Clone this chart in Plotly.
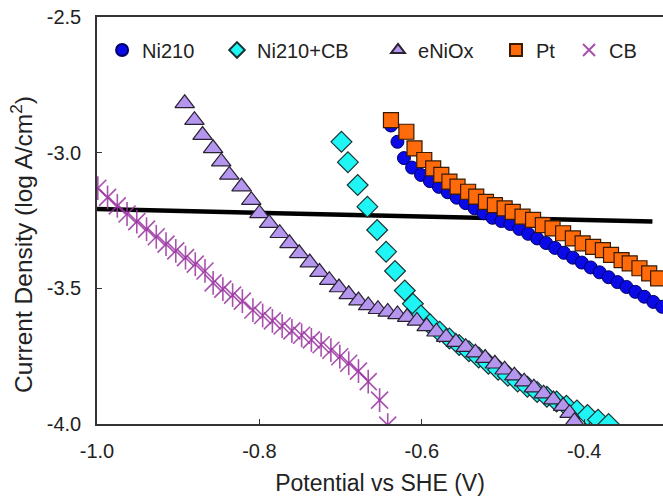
import plotly.graph_objects as go

# ---------------- data ----------------
ni210_x = [-0.638, -0.630, -0.622, -0.612, -0.601, -0.590, -0.579, -0.568, -0.557, -0.546,
           -0.535, -0.524, -0.513, -0.502, -0.491, -0.480, -0.469, -0.458, -0.447, -0.436,
           -0.425, -0.414, -0.403, -0.392, -0.381, -0.370, -0.359, -0.348, -0.337, -0.326,
           -0.315, -0.304]
ni210_y = [-2.900, -2.960, -3.020, -3.055, -3.082, -3.105, -3.126, -3.146, -3.166, -3.186,
           -3.205, -3.223, -3.240, -3.252, -3.263, -3.281, -3.299, -3.316, -3.333, -3.351,
           -3.369, -3.387, -3.405, -3.423, -3.441, -3.459, -3.477, -3.495, -3.513, -3.531,
           -3.550, -3.568]

ni210cb_x = [-0.699, -0.691, -0.679, -0.667, -0.655, -0.644, -0.633, -0.621, -0.611, -0.601,
             -0.590, -0.578, -0.566, -0.554, -0.542, -0.530, -0.518, -0.506, -0.494, -0.482,
             -0.470, -0.458, -0.446, -0.434, -0.422, -0.409, -0.396, -0.383, -0.370]
ni210cb_y = [-2.960, -3.035, -3.119, -3.199, -3.285, -3.365, -3.436, -3.508, -3.557, -3.600,
             -3.632, -3.660, -3.685, -3.709, -3.732, -3.755, -3.778, -3.800, -3.822, -3.843,
             -3.863, -3.882, -3.900, -3.917, -3.933, -3.950, -3.967, -3.984, -4.000]

enioxx = [-0.892, -0.880, -0.870, -0.857, -0.847, -0.837, -0.822, -0.810, -0.800, -0.788,
          -0.775, -0.763, -0.751, -0.738, -0.726, -0.714, -0.702, -0.690, -0.678, -0.666,
          -0.654, -0.642, -0.630, -0.618, -0.606, -0.594, -0.582, -0.570, -0.558, -0.546,
          -0.534, -0.522, -0.510, -0.498, -0.486, -0.474, -0.462, -0.450, -0.438, -0.426,
          -0.418, -0.412]
enioxy = [-2.818, -2.880, -2.935, -2.984, -3.033, -3.082, -3.125, -3.175, -3.224, -3.260,
          -3.297, -3.334, -3.371, -3.405, -3.440, -3.470, -3.497, -3.522, -3.545, -3.563,
          -3.577, -3.587, -3.596, -3.606, -3.620, -3.640, -3.660, -3.680, -3.698, -3.717,
          -3.737, -3.757, -3.778, -3.800, -3.822, -3.844, -3.866, -3.888, -3.910, -3.934,
          -3.960, -3.990]

pt_x = [-0.638, -0.619, -0.609, -0.597, -0.586, -0.576, -0.566, -0.556, -0.543, -0.533,
        -0.521, -0.510, -0.498, -0.488, -0.476, -0.463, -0.451, -0.439, -0.426, -0.414,
        -0.402, -0.389, -0.377, -0.367, -0.354, -0.344, -0.332, -0.320, -0.309]
pt_y = [-2.880, -2.923, -2.984, -3.027, -3.058, -3.082, -3.107, -3.125, -3.144, -3.162,
        -3.181, -3.193, -3.205, -3.218, -3.236, -3.248, -3.267, -3.279, -3.297, -3.316,
        -3.334, -3.347, -3.359, -3.377, -3.396, -3.408, -3.426, -3.445, -3.463]

cb_x = [-0.999, -0.987, -0.975, -0.963, -0.951, -0.939, -0.927, -0.915, -0.903, -0.891,
        -0.879, -0.867, -0.857, -0.845, -0.833, -0.821, -0.808, -0.796, -0.784, -0.772,
        -0.760, -0.748, -0.736, -0.724, -0.712, -0.701, -0.690, -0.678, -0.666, -0.652,
        -0.642]
cb_y = [-3.131, -3.165, -3.196, -3.226, -3.254, -3.282, -3.310, -3.337, -3.362, -3.387,
        -3.411, -3.436, -3.480, -3.503, -3.525, -3.547, -3.580, -3.600, -3.620, -3.639,
        -3.657, -3.673, -3.690, -3.708, -3.728, -3.752, -3.776, -3.805, -3.844, -3.912,
        -4.004]

ref_x = [-1.000, -0.316]
ref_y = [-3.208, -3.254]

x_ticks = [-1.0, -0.8, -0.6, -0.4]
y_ticks = [-4.0, -3.5, -3.0, -2.5]

X_TITLE = "Potential vs SHE (V)"
Y_TITLE = "Current Density (log A/cm<sup>2</sup>)"

FONT = "Liberation Sans, Arial, sans-serif"
CB_COLOR = "rgba(153,51,160,0.85)"

fig = go.Figure()

fig.add_trace(go.Scatter(x=ref_x, y=ref_y, mode="lines", showlegend=False,
                         line=dict(color="black", width=4.5)))

fig.add_trace(go.Scatter(x=ni210_x, y=ni210_y, mode="markers", name="Ni210", legend="legend",
                         marker=dict(symbol="circle", size=13, color="#0a0ae6",
                                     line=dict(color="#000066", width=1))))
fig.add_trace(go.Scatter(x=ni210cb_x, y=ni210cb_y, mode="markers", name="Ni210+CB", legend="legend2",
                         marker=dict(symbol="diamond", size=16, color="#1ff5f5",
                                     line=dict(color="#1a3333", width=1.2))))
fig.add_trace(go.Scatter(x=enioxx, y=enioxy, mode="markers", name="eNiOx", legend="legend3",
                         marker=dict(symbol="triangle-up", size=17, color="#b596ee",
                                     line=dict(color="#2a2233", width=1.2))))
fig.add_trace(go.Scatter(x=pt_x, y=pt_y, mode="markers", name="Pt", legend="legend4",
                         marker=dict(symbol="square", size=15, color="#ff6a0a",
                                     line=dict(color="#3a1a00", width=1.2))))
fig.add_trace(go.Scatter(x=cb_x, y=cb_y, mode="markers", name="CB", legend="legend5",
                         marker=dict(symbol="x-thin-open", size=17, color=CB_COLOR,
                                     line=dict(color=CB_COLOR, width=1.6))))
fig.add_trace(go.Scatter(x=cb_x, y=cb_y, mode="markers", showlegend=False,
                         marker=dict(symbol="line-ns-open", size=17, color=CB_COLOR,
                                     line=dict(color=CB_COLOR, width=1.6))))

axis_common = dict(showgrid=False, zeroline=False, showline=True, linecolor="#333333",
                   linewidth=1.5, ticks="inside", ticklen=5, tickcolor="#333333",
                   tickfont=dict(family=FONT, size=20, color="#222222"))

def legend_at(xpos):
    return dict(orientation="h", x=xpos, y=0.919, xanchor="left", yanchor="middle",
                bgcolor="rgba(0,0,0,0)", font=dict(family=FONT, size=20, color="#222222"),
                itemsizing="constant")

fig.update_layout(
    width=663, height=499,
    margin=dict(l=97, r=0, t=17, b=75),
    paper_bgcolor="white", plot_bgcolor="white",
    font=dict(family=FONT, size=20, color="#222222"),
    xaxis=dict(range=[-1.0, -0.303], tickvals=x_ticks, ticktext=["-1.0", "-0.8", "-0.6", "-0.4"],
               mirror=True, ticklabelstandoff=8,
               title=dict(text=X_TITLE, font=dict(family=FONT, size=23), standoff=14),
               **axis_common),
    yaxis=dict(range=[-4.0, -2.5], tickvals=y_ticks, ticktext=["-4.0", "-3.5", "-3.0", "-2.5"],
               ticklabelstandoff=10, **axis_common),
    annotations=[dict(text=Y_TITLE, textangle=-90, xref="paper", yref="paper",
                      x=-0.1325, y=0.44, xanchor="center", yanchor="middle", showarrow=False,
                      font=dict(family=FONT, size=24.5, color="#222222"))],
    legend=legend_at(0.009),
    legend2=legend_at(0.212),
    legend3=legend_at(0.4965),
    legend4=legend_at(0.705),
    legend5=legend_at(0.834),
)

fig.write_html("out.html")
